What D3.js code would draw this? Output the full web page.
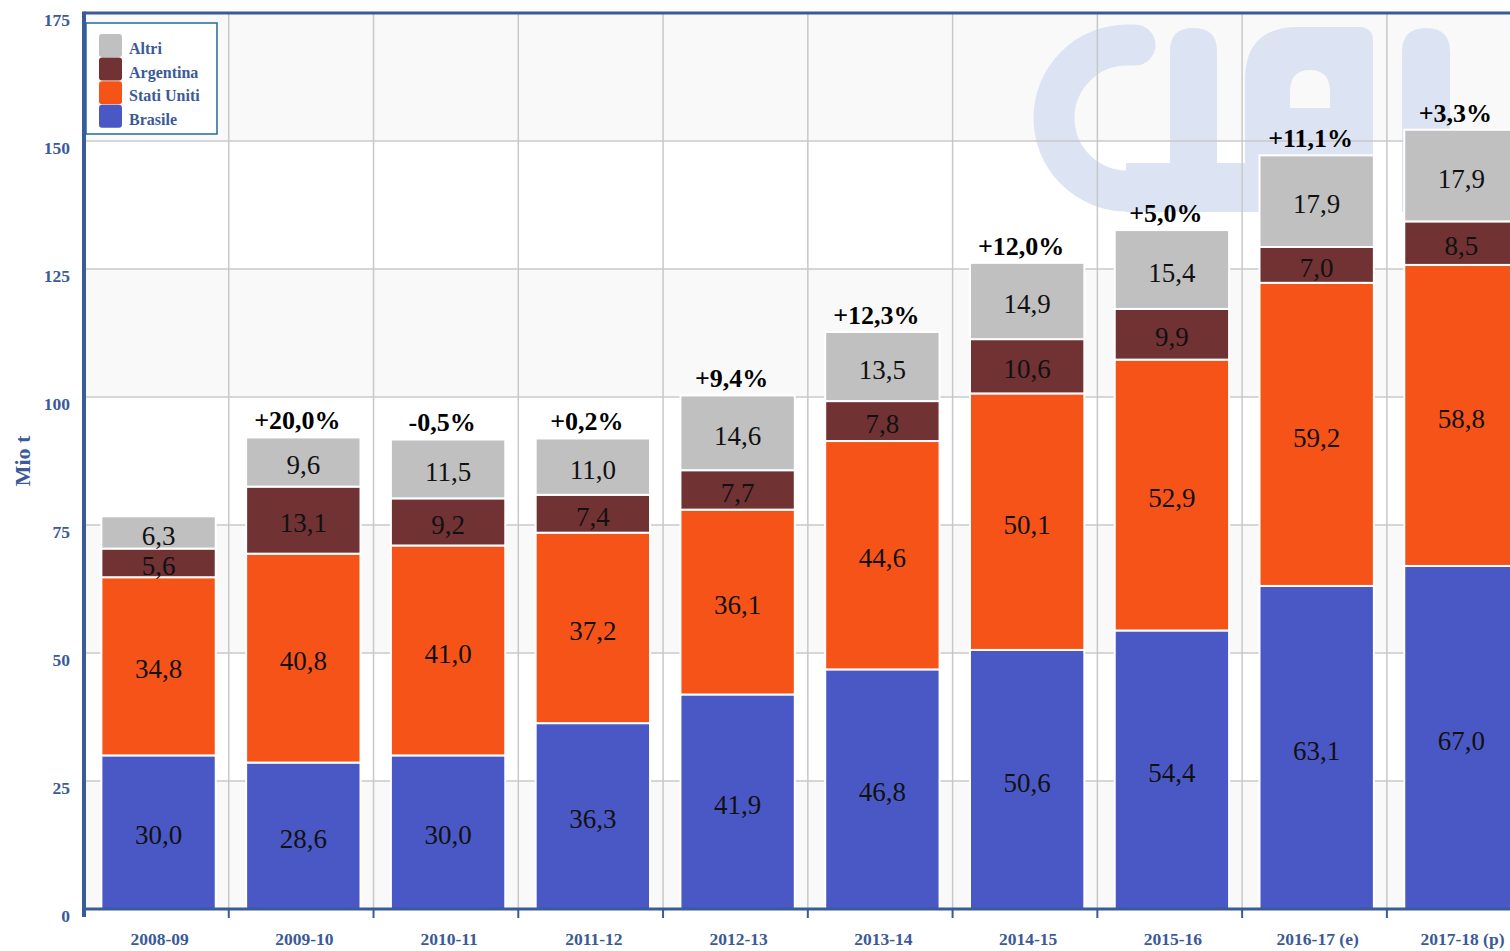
<!DOCTYPE html>
<html>
<head>
<meta charset="utf-8">
<script src="https://cdn.jsdelivr.net/npm/d3@7"></script>
<style>
  body { margin: 0; background: #fff; }
  svg { display: block; }
</style>
</head>
<body>
<div id="chart"></div>
<script>
// data
const seasons = ['2008-09','2009-10','2010-11','2011-12','2012-13','2013-14','2014-15','2015-16','2016-17 (e)','2017-18 (p)'];
const brasile    = [30.0, 28.6, 30.0, 36.3, 41.9, 46.8, 50.6, 54.4, 63.1, 67.0];
const statiUniti = [34.8, 40.8, 41.0, 37.2, 36.1, 44.6, 50.1, 52.9, 59.2, 58.8];
const argentina  = [5.6, 13.1, 9.2, 7.4, 7.7, 7.8, 10.6, 9.9, 7.0, 8.5];
const altri      = [6.3, 9.6, 11.5, 11.0, 14.6, 13.5, 14.9, 15.4, 17.9, 17.9];
const changes    = ['', '+20,0%', '-0,5%', '+0,2%', '+9,4%', '+12,3%', '+12,0%', '+5,0%', '+11,1%', '+3,3%'];
const yTicks     = [0, 25, 50, 75, 100, 125, 150, 175];

const seriesNames = ['Brasile', 'Stati Uniti', 'Argentina', 'Altri'];
const seriesColors = ['#4a58c6', '#f65319', '#713234', '#c0c0c0'];

const W = 1510, H = 951;
const plotLeft = 84, plotTop = 13, plotBottom = 909, rightEnd = 1536;
const blue = '#3a5a98';
const serif = '"Liberation Serif", "DejaVu Serif", serif';

const rows = seasons.map((s, i) => ({
  season: s,
  'Brasile': brasile[i],
  'Stati Uniti': statiUniti[i],
  'Argentina': argentina[i],
  'Altri': altri[i],
  change: changes[i]
}));

const stack = d3.stack().keys(seriesNames)(rows);

const x = d3.scaleBand().domain(seasons).range([plotLeft, rightEnd])
    .paddingInner(0.21).paddingOuter(0.12);
const y = d3.scaleLinear().domain([0, 175]).range([plotBottom, plotTop]);
const color = d3.scaleOrdinal().domain(seriesNames).range(seriesColors);

const svg = d3.select('#chart').append('svg')
    .attr('width', W).attr('height', H);

// alternating plot bands
svg.append('g').selectAll('rect')
  .data(d3.pairs(yTicks))
  .join('rect')
    .attr('x', plotLeft).attr('width', W - plotLeft)
    .attr('y', d => y(d[1])).attr('height', d => y(d[0]) - y(d[1]))
    .attr('fill', (d, i) => i % 2 === 0 ? '#f9f9f9' : '#ffffff');

// watermark (rough CLAL logo)
const wmColor = '#dce3f2';
const wm = svg.append('g').attr('fill', wmColor);
wm.append('path')
    .attr('d', 'M1135,45 L1127,45 A73,73 0 0 0 1127,191')
    .attr('fill', 'none').attr('stroke', wmColor)
    .attr('stroke-width', 41).attr('stroke-linecap', 'round');
wm.append('rect').attr('x', 1126).attr('y', 163).attr('width', 134).attr('height', 49);
wm.append('path')
    .attr('d', 'M1170,212 V51 Q1170,28 1193,28 Q1217,28 1217,51 V212 Z');
wm.append('path')
    .attr('d', 'M1245,212 V80 Q1245,27 1298,27 H1359 Q1373,27 1373,41 V212 Z ' +
               'M1290,108 V92 Q1290,70 1310,70 Q1330,70 1330,92 V108 Z')
    .attr('fill-rule', 'evenodd');
wm.append('path')
    .attr('d', 'M1402,212 V52 Q1402,28 1426,28 Q1450,28 1450,52 V212 Z');

// grid
const step = x.step();
const bounds = d3.range(seasons.length + 1).map(i => plotLeft + i * step);
svg.append('g').selectAll('line')
  .data(bounds.slice(1))
  .join('line')
    .attr('x1', d => d).attr('x2', d => d)
    .attr('y1', plotTop).attr('y2', plotBottom)
    .attr('stroke', '#c8c8c8').attr('stroke-width', 1.5);
svg.append('g').selectAll('line')
  .data(yTicks.slice(1, -1))
  .join('line')
    .attr('x1', plotLeft).attr('x2', W)
    .attr('y1', d => y(d)).attr('y2', d => y(d))
    .attr('stroke', '#c8c8c8').attr('stroke-width', 1.5);

// bars
const layer = svg.append('g').selectAll('g')
  .data(stack)
  .join('g')
    .attr('fill', d => color(d.key));

layer.selectAll('rect')
  .data(d => d)
  .join('rect')
    .attr('x', d => x(d.data.season))
    .attr('width', x.bandwidth())
    .attr('y', d => y(d[1]))
    .attr('height', d => y(d[0]) - y(d[1]))
    .attr('stroke', '#fff').attr('stroke-width', 2);

// value labels
layer.selectAll('text')
  .data(d => d.map(v => ({ v, key: d.key })))
  .join('text')
    .attr('x', d => x(d.v.data.season) + x.bandwidth() / 2)
    .attr('y', d => (y(d.v[0]) + y(d.v[1])) / 2)
    .attr('dy', '0.45em')
    .attr('text-anchor', 'middle')
    .attr('font-family', serif)
    .attr('font-size', 27)
    .attr('fill', '#111')
    .text(d => d3.format('.1f')(d.v.data[d.key]).replace('.', ','));

// change labels
const topStack = stack[stack.length - 1];
svg.append('g').selectAll('text')
  .data(topStack)
  .join('text')
    .attr('x', d => x(d.data.season) + x.bandwidth() / 2 - 6)
    .attr('y', d => y(d[1]) - 8)
    .attr('text-anchor', 'middle')
    .attr('font-family', serif)
    .attr('font-weight', 'bold')
    .attr('font-size', 26)
    .attr('fill', '#000')
    .text(d => d.data.change);

// axes frame
svg.append('line')
    .attr('x1', plotLeft).attr('x2', W).attr('y1', plotTop).attr('y2', plotTop)
    .attr('stroke', blue).attr('stroke-width', 3);
svg.append('line')
    .attr('x1', plotLeft).attr('x2', plotLeft).attr('y1', plotTop - 1.5).attr('y2', plotBottom + 8)
    .attr('stroke', blue).attr('stroke-width', 4);

const xAxis = svg.append('g')
    .attr('transform', 'translate(0,' + plotBottom + ')')
    .call(d3.axisBottom(x).tickSize(0).tickPadding(24));
xAxis.select('.domain').attr('stroke', blue).attr('stroke-width', 3)
    .attr('d', 'M' + plotLeft + ',0H' + W);
xAxis.selectAll('.tick text')
    .attr('font-family', serif)
    .attr('font-weight', 'bold')
    .attr('font-size', 17.5)
    .attr('fill', blue)
    .attr('dx', 1);
svg.append('g').selectAll('line')
  .data(bounds.slice(1))
  .join('line')
    .attr('x1', d => d).attr('x2', d => d)
    .attr('y1', plotBottom).attr('y2', plotBottom + 9)
    .attr('stroke', blue).attr('stroke-width', 2);

const yAxis = svg.append('g')
    .attr('transform', 'translate(' + plotLeft + ',0)')
    .call(d3.axisLeft(y).tickValues(yTicks).tickSize(0).tickPadding(14));
yAxis.select('.domain').remove();
yAxis.selectAll('.tick text')
    .attr('font-family', serif)
    .attr('font-weight', 'bold')
    .attr('font-size', 17.5)
    .attr('fill', blue)
    .attr('dy', '0.72em');

svg.append('text')
    .attr('transform', 'translate(30,461) rotate(-90)')
    .attr('text-anchor', 'middle')
    .attr('font-family', serif)
    .attr('font-weight', 'bold')
    .attr('font-size', 22)
    .attr('fill', blue)
    .text('Mio t');

// legend
const legend = svg.append('g');
legend.append('rect')
    .attr('x', 86).attr('y', 23).attr('width', 131).attr('height', 111)
    .attr('fill', '#fff').attr('stroke', '#1f6a9c').attr('stroke-width', 1.5);
const legendItems = seriesNames.slice().reverse();
legendItems.forEach((name, i) => {
  const ly = 34 + i * 23.6;
  legend.append('rect')
      .attr('x', 99).attr('y', ly).attr('width', 23).attr('height', 23).attr('rx', 3)
      .attr('fill', color(name));
  legend.append('text')
      .attr('x', 129).attr('y', ly + 20)
      .attr('font-family', serif).attr('font-weight', 'bold')
      .attr('font-size', 16).attr('fill', blue)
      .text(name);
});
</script>
</body>
</html>
